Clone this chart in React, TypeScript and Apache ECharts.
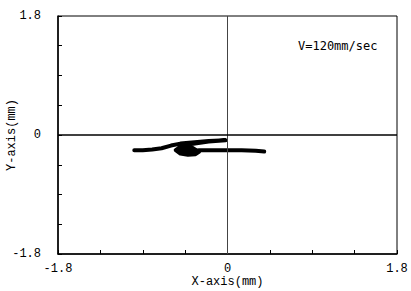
import React, { useEffect, useRef } from "react";
import * as echarts from "echarts";

const axisMin = -1.8;
const axisMax = 1.8;
const tickStep = 0.45;
const labeledTicks = [-1.8, 0, 1.8];
const speedLabel = "V=120mm/sec";
const xName = "X-axis(mm)";
const yName = "Y-axis(mm)";

// traced trajectory (mm)
const trajX = [-0.99, -0.9, -0.8, -0.7, -0.6, -0.5, -0.35, -0.2, -0.02, -0.2, -0.4, -0.5, -0.55, -0.5, -0.42, -0.34, -0.3, -0.36, -0.46, -0.52, -0.44, -0.36, -0.32, -0.4, -0.48, -0.4, -0.3, -0.15, 0.0, 0.15, 0.3, 0.39];
const trajY = [-0.23, -0.23, -0.22, -0.2, -0.16, -0.13, -0.11, -0.09, -0.08, -0.1, -0.14, -0.18, -0.23, -0.28, -0.3, -0.29, -0.25, -0.21, -0.19, -0.23, -0.27, -0.28, -0.24, -0.17, -0.2, -0.25, -0.23, -0.23, -0.23, -0.23, -0.24, -0.25];

const labelFmt = (v: number) => {
  const hit = labeledTicks.find((t) => Math.abs(t - v) < 1e-6);
  if (hit === undefined) return "";
  return hit === 0 ? "0" : hit.toFixed(1);
};

export default function App() {
  const ref = useRef<HTMLDivElement>(null);
  useEffect(() => {
    if (!ref.current) return;
    const chart = echarts.init(ref.current, null, { renderer: "svg" });
    const font = "Liberation Mono";
    chart.setOption({
      animation: false,
      backgroundColor: "#fff",
      grid: { left: 58, right: 14, top: 16, bottom: 37, show: true, borderColor: "#000", borderWidth: 1, containLabel: false, outerBoundsMode: "none" },
      xAxis: {
        type: "value",
        min: axisMin,
        max: axisMax,
        interval: tickStep,
        name: xName,
        nameLocation: "middle",
        nameGap: 22,
        nameMoveOverlap: false,
        nameTextStyle: { fontFamily: font, fontSize: 12, color: "#000" },
        axisLine: { onZero: false, lineStyle: { color: "#000", width: 1.5 } },
        axisTick: { inside: true, length: 4, lineStyle: { color: "#000" } },
        axisLabel: { formatter: labelFmt, fontFamily: font, fontSize: 12, color: "#000", margin: 9, showMinLabel: true, showMaxLabel: true },
        splitLine: { show: false },
      },
      yAxis: {
        type: "value",
        min: axisMin,
        max: axisMax,
        interval: tickStep,
        name: yName,
        nameLocation: "middle",
        nameGap: 40,
        nameMoveOverlap: false,
        nameTextStyle: { fontFamily: font, fontSize: 12, color: "#000" },
        axisLine: { onZero: false, lineStyle: { color: "#000", width: 1.5 } },
        axisTick: { inside: true, length: 4, lineStyle: { color: "#000" } },
        axisLabel: { formatter: labelFmt, fontFamily: font, fontSize: 12, color: "#000", margin: 17, showMinLabel: true, showMaxLabel: true },
        splitLine: { show: false },
      },
      graphic: [
        {
          type: "text",
          left: 298,
          top: 40,
          style: { text: speedLabel, fontFamily: "DejaVu Sans Mono", fontSize: 12, fill: "#000" },
        },
      ],
      series: [
        {
          type: "line",
          data: trajX.map((x, i) => [x, trajY[i]]),
          showSymbol: false,
          lineStyle: { color: "#000", width: 4, join: "round", cap: "round" },
          z: 3,
          markLine: {
            silent: true,
            symbol: "none",
            label: { show: false },
            data: [
              { xAxis: 0, lineStyle: { color: "#444", width: 1, type: "solid" } },
              { yAxis: 0, lineStyle: { color: "#000", width: 1.5, type: "solid" } },
            ],
          },
        },
      ],
    });
    return () => chart.dispose();
  }, []);
  return <div ref={ref} style={{ width: 411, height: 291, position: "absolute", left: 0, top: 0 }} />;
}
